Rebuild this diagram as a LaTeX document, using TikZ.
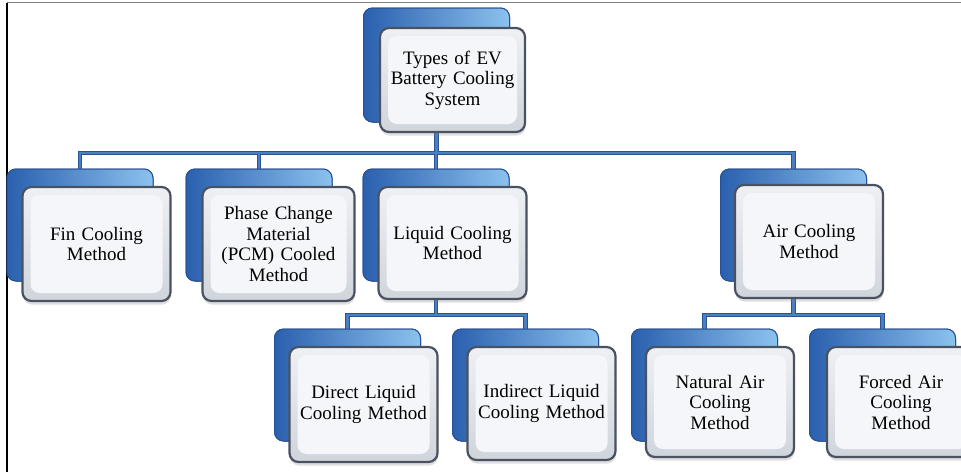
\documentclass[tikz,border=0pt]{standalone}
\usepackage{fontspec}
\setmainfont{Liberation Serif}
\usetikzlibrary{shadows}
\definecolor{bbA}{HTML}{2A60AE}
\definecolor{bbB}{HTML}{3874C8}
\definecolor{bbC}{HTML}{8CC2EE}
\definecolor{bbEdge}{HTML}{285193}
\definecolor{fbEdge}{HTML}{4A5261}
\definecolor{fbTop}{HTML}{EEF0F3}
\definecolor{fbBot}{HTML}{D0D5DC}
\definecolor{fbIn}{HTML}{F4F6F9}
\definecolor{cnOut}{HTML}{2A5491}
\definecolor{cnIn}{HTML}{4A80C2}
\begin{document}
\begin{tikzpicture}[x=1pt,y=-1pt,
  backbox/.style={draw=bbEdge, line width=1pt, rounded corners=9pt,
    left color=bbA, middle color=bbB, right color=bbC, inner sep=0pt,
    minimum width=146pt, minimum height=112pt},
  frontbox/.style={draw=fbEdge, line width=2.2pt, rounded corners=9pt,
    top color=fbTop, bottom color=fbBot, inner sep=0pt,
    minimum width=148pt, minimum height=114pt,
    text width=138pt, align=center,
    font=\fontsize{19}{20.5}\selectfont,
    drop shadow={opacity=0.25, shadow xshift=0.5pt, shadow yshift=-3.5pt},
    path picture={\fill[fbIn]
      ([shift={(8pt,8pt)}]path picture bounding box.south west) rectangle
      ([shift={(-8pt,-8pt)}]path picture bounding box.north east);}},
  conn/.style={draw=cnOut, line width=1pt, double=cnIn, double distance=2.2pt}
]
\clip (0,0) rectangle (961,472);
\fill[white] (0,0) rectangle (961,472);
\draw[black, line width=1.6pt] (7,472) -- (7,2.5);
\draw[gray, line width=1.6pt] (7,2.5) -- (961,2.5);

% back boxes (positions)
\coordinate (bus1) at (0,153);
\coordinate (bus2) at (0,315);
\node[backbox, minimum height=114pt] (top-b) at (436.5,65) {};
\node[backbox] (fin-b) at (80,225) {};
\node[backbox] (pcm-b) at (259,225) {};
\node[backbox] (liq-b) at (436,225) {};
\node[backbox] (air-b) at (793.5,225) {};
\node[backbox] (dir-b) at (347.5,385) {};
\node[backbox] (ind-b) at (525.5,385) {};
\node[backbox] (nat-b) at (704.5,385) {};
\node[backbox] (for-b) at (882.5,385) {};

% connectors
\draw[conn]
  (fin-b.north) -- (fin-b.north |- bus1) -- (air-b.north |- bus1) -- (air-b.north)
  (top-b.south) -- (top-b.south |- bus1)
  (pcm-b.north) -- (pcm-b.north |- bus1)
  (liq-b.north) -- (liq-b.north |- bus1)
  (dir-b.north) -- (dir-b.north |- bus2) -- (ind-b.north |- bus2) -- (ind-b.north)
  (liq-b.south) -- (liq-b.south |- bus2)
  (nat-b.north) -- (nat-b.north |- bus2) -- (for-b.north |- bus2) -- (for-b.north)
  (air-b.south) -- (air-b.south |- bus2);

% redraw back boxes over connector ends
\foreach \n/\x/\y/\h in {top-b/436.5/65/114, fin-b/80/225/112, pcm-b/259/225/112,
  liq-b/436/225/112, air-b/793.5/225/112, dir-b/347.5/385/112,
  ind-b/525.5/385/112, nat-b/704.5/385/112, for-b/882.5/385/112}
  \node[backbox, minimum height=\h pt] at (\x,\y) {};

% front boxes with texts
\node[frontbox, minimum width=145pt, minimum height=104pt] (top) at (452.5,80)
  {Types of EV\\Battery Cooling\\System};
\node[frontbox] (fin) at (96.5,244) {Fin Cooling\\Method};
\node[frontbox, minimum width=152pt] (pcm) at (278.5,244)
  {Phase Change\\Material\\(PCM) Cooled\\Method};
\node[frontbox, minimum height=112pt] (liq) at (452.5,243) {Liquid Cooling\\Method};
\node[frontbox, minimum height=113pt] (air) at (809,241.5) {Air Cooling\\Method};
\node[frontbox, minimum height=115pt] (dir) at (363.5,404.5) {Direct Liquid\\Cooling Method};
\node[frontbox, minimum height=113pt] (ind) at (541.5,403.5) {Indirect Liquid\\Cooling Method};
\node[frontbox, minimum height=110pt] (nat) at (720,402) {Natural Air\\Cooling\\Method};
\node[frontbox, minimum height=110pt] (for) at (901,402) {Forced Air\\Cooling\\Method};
\end{tikzpicture}
\end{document}
